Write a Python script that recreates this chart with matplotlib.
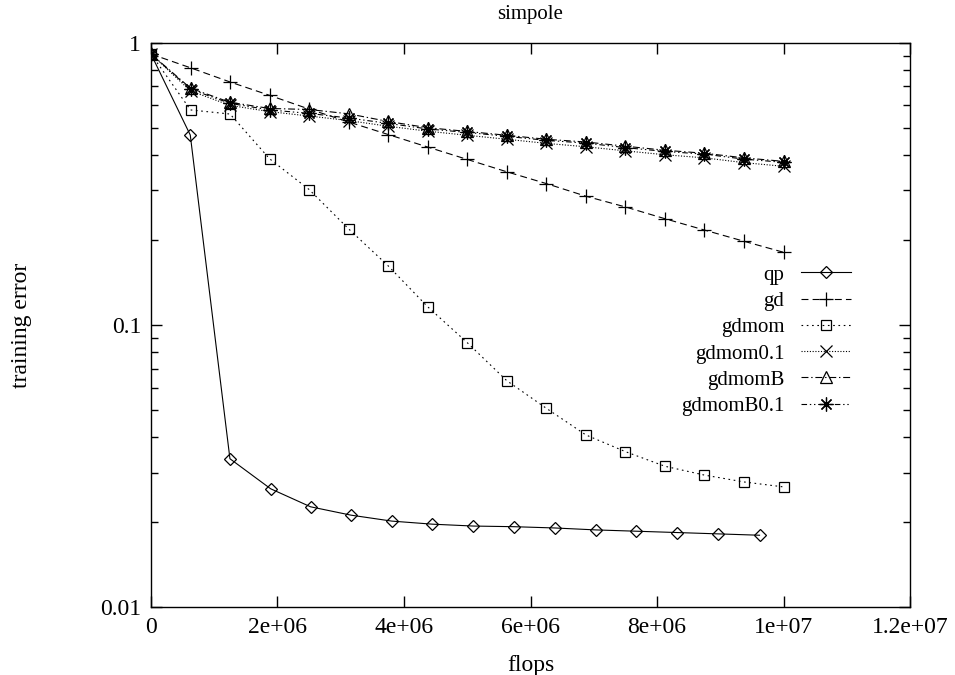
import numpy as np
import matplotlib
matplotlib.use("Agg")
import matplotlib.pyplot as plt

plt.rcParams.update({
    "font.family": ["Liberation Serif", "DejaVu Serif"],
    "font.size": 15,
    "lines.scale_dashes": False,
    "axes.linewidth": 1.0,
})

# flops at which each run was evaluated
flops_qp = [0, 0.621e6, 1.248e6, 1.891e6, 2.523e6, 3.164e6, 3.807e6, 4.450e6,
            5.098e6, 5.735e6, 6.382e6, 7.030e6, 7.673e6, 8.318e6, 8.969e6, 9.621e6]
flops_gd = [0, 0.625e6, 1.25e6, 1.875e6, 2.5e6, 3.125e6, 3.75e6, 4.375e6, 5.0e6,
            5.625e6, 6.25e6, 6.875e6, 7.5e6, 8.125e6, 8.75e6, 9.375e6, 1.0e7]

# training error per run
err_qp = [0.912, 0.471, 0.0336, 0.0263, 0.0227, 0.0212, 0.0202, 0.0197, 0.0194,
          0.0193, 0.0191, 0.0188, 0.0186, 0.0184, 0.0182, 0.0180]
err_gd = [0.912, 0.815, 0.726, 0.651, 0.582, 0.524, 0.473, 0.427, 0.386, 0.349,
          0.317, 0.286, 0.262, 0.238, 0.217, 0.198, 0.181]
err_gdmom = [0.912, 0.578, 0.559, 0.388, 0.302, 0.219, 0.162, 0.116, 0.0866,
             0.0635, 0.0507, 0.0408, 0.0356, 0.0316, 0.0294, 0.0278, 0.0267]
err_gdmom01 = [0.912, 0.675, 0.600, 0.570, 0.550, 0.530, 0.506, 0.486, 0.470,
               0.455, 0.440, 0.428, 0.414, 0.401, 0.391, 0.376, 0.365]
err_gdmomB = [0.912, 0.690, 0.615, 0.585, 0.580, 0.560, 0.526, 0.500, 0.485,
              0.470, 0.455, 0.445, 0.430, 0.416, 0.406, 0.391, 0.380]
err_gdmomB01 = [0.912, 0.684, 0.610, 0.578, 0.562, 0.541, 0.518, 0.495, 0.481,
                0.466, 0.451, 0.441, 0.425, 0.412, 0.403, 0.387, 0.377]

fig = plt.figure(figsize=(9.55, 6.75), dpi=100)
ax = fig.add_axes([0.1581, 0.1003, 0.7948, 0.8364])

common = dict(color="black", lw=0.8, mfc="none", mec="black", mew=0.9)
ax.plot(flops_qp, err_qp, marker="D", ms=6, ls="-", label="qp", **common)
ax.plot(flops_gd, err_gd, marker="+", ms=10, dashes=(5, 3), label="gd", **common)
ax.plot(flops_gd, err_gdmom, marker="s", ms=7, dashes=(1.2, 2.6), label="gdmom", **common)
ax.plot(flops_gd, err_gdmom01, marker="x", ms=8, dashes=(0.8, 1.2), label="gdmom0.1", **common)
ax.plot(flops_gd, err_gdmomB, marker="^", ms=8, dashes=(5, 2, 1, 2), label="gdmomB", **common)
ax.plot(flops_gd, err_gdmomB01, marker=(8, 2, 0), ms=10, dashes=(4, 2, 1, 2, 1, 2),
        label="gdmomB0.1", **common)

ax.set_xlim(0, 1.2e7)
ax.set_yscale("log")
ax.set_ylim(0.01, 1)
xt = [0, 2e6, 4e6, 6e6, 8e6, 1e7, 1.2e7]
ax.set_xticks(xt)
ax.set_xticklabels(["0", "2e+06", "4e+06", "6e+06", "8e+06", "1e+07", "1.2e+07"])
ax.set_yticks([0.01, 0.1, 1])
ax.set_yticklabels(["0.01", "0.1", "1"])
ax.tick_params(which="both", direction="in", top=True, right=True, labelsize=17)
ax.tick_params(which="major", length=8, width=1, pad=7)
ax.tick_params(which="minor", length=5, width=1)
ax.minorticks_on()
ax.xaxis.set_minor_locator(matplotlib.ticker.NullLocator())

ax.set_xlabel("flops", fontsize=17, labelpad=12)
ax.set_ylabel("training error", fontsize=17, labelpad=49)
ax.set_title("simpole", fontsize=15, pad=17)

ax.legend(loc="upper right", bbox_to_anchor=(0.922, 0.606), markerfirst=False,
          frameon=False, handlelength=2.4, handletextpad=0.8, labelspacing=0.32,
          borderpad=0, borderaxespad=0)

fig.savefig("out.png", dpi=100)
